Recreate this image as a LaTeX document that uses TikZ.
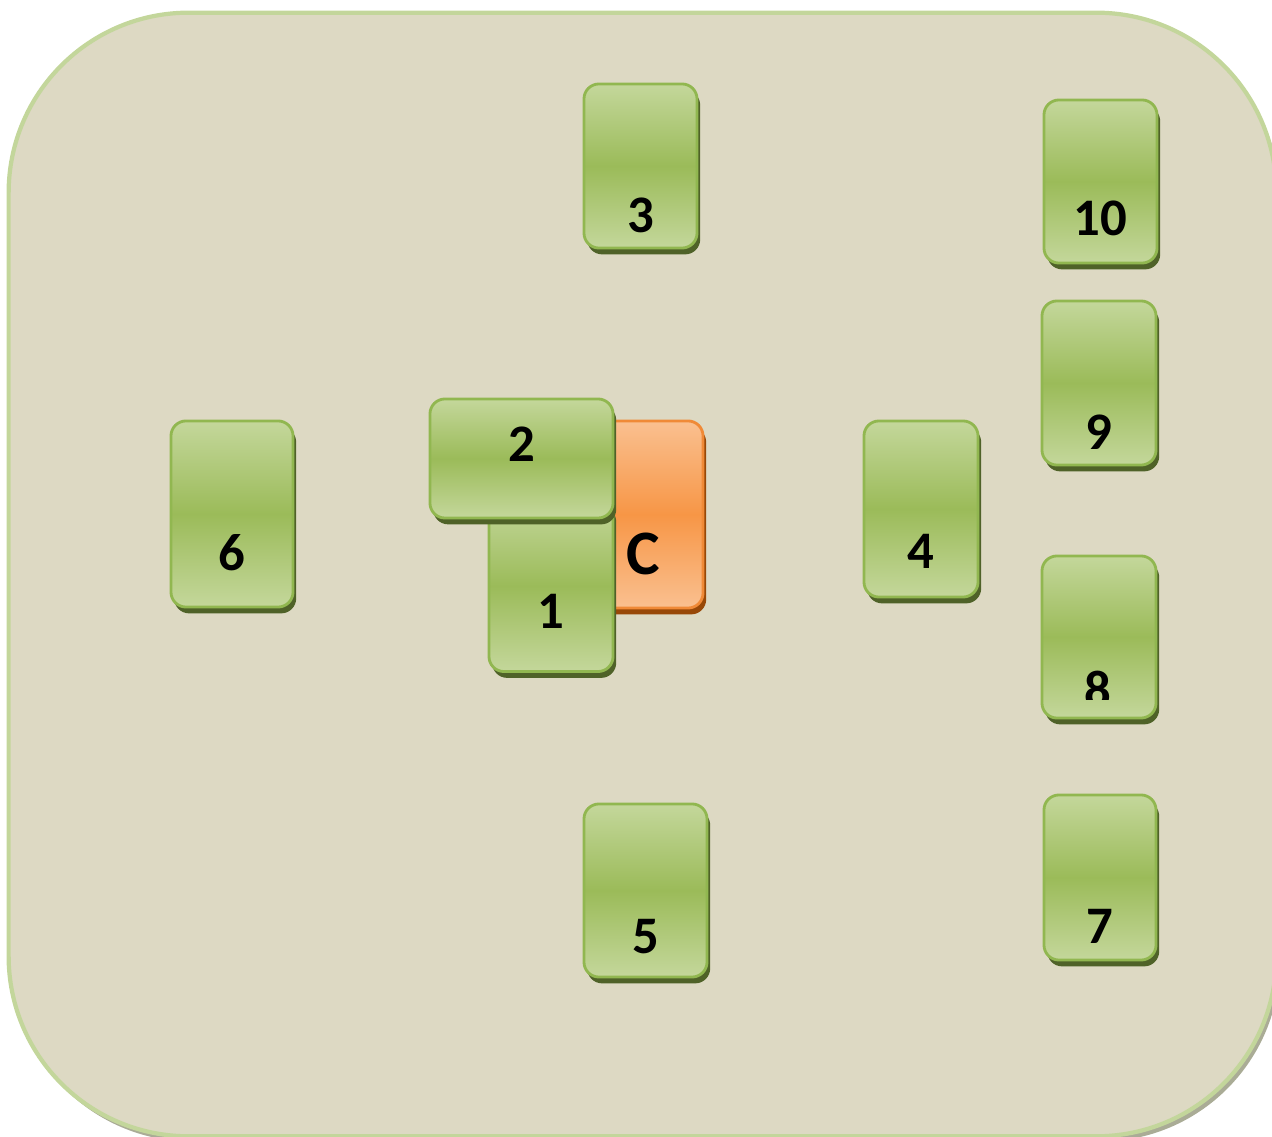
\documentclass[tikz,border=0pt]{standalone}
\usepackage{fontspec}
\setsansfont{Carlito}
\usetikzlibrary{shadows}
\definecolor{bgFill}{RGB}{221,217,195}
\definecolor{bgLine}{RGB}{195,214,155}
\definecolor{bgShadow}{RGB}{170,172,150}
\definecolor{gnLight}{RGB}{196,215,155}
\definecolor{gnMid}{RGB}{155,187,89}
\definecolor{gnLine}{RGB}{145,183,80}
\definecolor{gnShadow}{RGB}{79,98,40}
\definecolor{orLight}{RGB}{250,192,144}
\definecolor{orMid}{RGB}{247,150,70}
\definecolor{orLine}{RGB}{240,138,55}
\definecolor{orShadow}{RGB}{152,72,7}

\begin{document}
\begin{tikzpicture}[
  x=0.01cm, y=-0.01cm,
  font=\sffamily\bfseries\fontsize{15}{18}\selectfont,
  card/.style={rectangle, rounded corners=0.15cm, draw=#1Line, line width=0.8pt,
    top color=#1Light, bottom color=#1Light, middle color=#1Mid,
    general shadow={fill=#1Shadow, shadow xshift=0.9pt, shadow yshift=-1.8pt}},
  num/.style={anchor=base, text=black, inner sep=0pt}
]
\useasboundingbox (0,0) rectangle (1272,1137);
% the board
\node[rectangle, rounded corners=1.8cm, draw=bgLine, fill=bgFill, line width=1.2pt,
  minimum width=12.67cm, minimum height=11.23cm,
  general shadow={fill=bgShadow, shadow xshift=1pt, shadow yshift=-1.5pt}]
  (board) at (642.5,574.5) {};
% orange card behind 1 and 2
\node[card=or, minimum width=1.06cm, minimum height=1.87cm] (cardC) at (650,514.5) {};
\node[num, font=\sffamily\bfseries\fontsize{18}{21}\selectfont] (labC) at (643,575) {C};
% green cards: name/x/y/width/height/baseline
\foreach \n/\x/\y/\w/\h/\b in {
  6/232/514/1.22/1.86/571,
  1/551/586/1.24/1.71/629,
  2/521.5/458.5/1.83/1.19/462,
  3/640.5/166/1.13/1.64/233,
  4/921/509/1.14/1.76/569,
  5/645.5/890.5/1.23/1.73/954,
  7/1100/877.5/1.12/1.65/944,
  9/1099/383/1.14/1.64/450,
  10/1100.5/181.5/1.13/1.63/236} {
  \node[card=gn, minimum width=\w cm, minimum height=\h cm] (card\n) at (\x,\y) {};
  \node[num] (lab\n) at (\x,\b) {\n};
}
% card 8, its number cut off at the bottom
\node[card=gn, minimum width=1.14cm, minimum height=1.62cm] (card8) at (1099,637) {};
\begin{scope}
  \clip (1040,550) rectangle (1160,700);
  \node[num] (lab8) at (1098,708) {8};
\end{scope}
\end{tikzpicture}
\end{document}
